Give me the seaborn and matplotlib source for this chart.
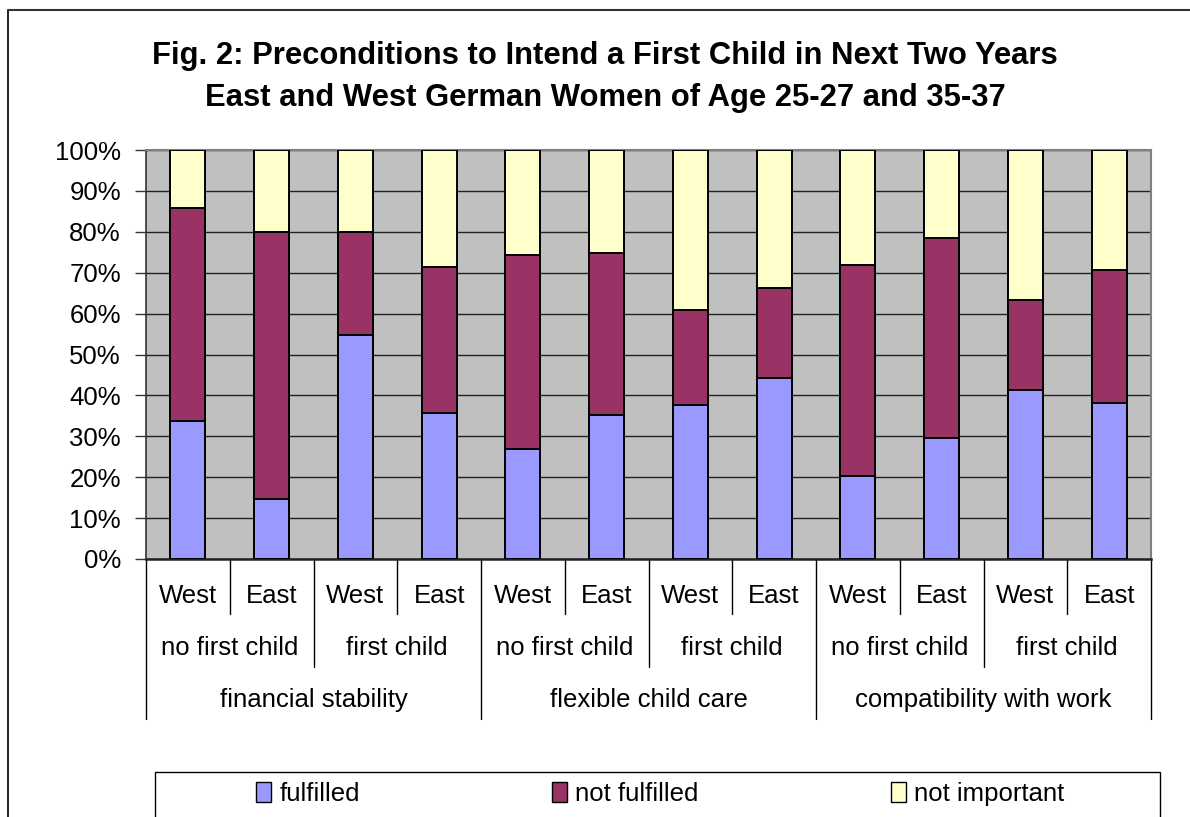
import numpy as np
import pandas as pd
import matplotlib
matplotlib.use("Agg")
import matplotlib.pyplot as plt
import matplotlib.transforms as mtransforms
from matplotlib.patches import Patch, Rectangle
import seaborn as sns

# ---- data ----
regions = ["West", "East"] * 6
child_status = ["no first child", "first child"] * 3
conditions = ["financial stability", "flexible child care", "compatibility with work"]
fulfilled = [33.7, 14.7, 54.7, 35.6, 27.0, 35.2, 37.6, 44.3, 20.4, 29.5, 41.4, 38.1]
not_fulfilled = [52.0, 65.3, 25.3, 35.9, 47.3, 39.6, 23.3, 21.9, 51.5, 49.1, 21.9, 32.5]
not_important = [14.3, 20.0, 20.0, 28.5, 25.7, 25.2, 39.1, 33.8, 28.1, 21.4, 36.7, 29.4]
series_names = ["fulfilled", "not fulfilled", "not important"]
colors = ["#9999FF", "#993366", "#FFFFCC"]
yticks = [0, 10, 20, 30, 40, 50, 60, 70, 80, 90, 100]
title_lines = ["Fig. 2: Preconditions to Intend a First Child in Next Two Years",
               "East and West German Women of Age 25-27 and 35-37"]

sns.set_style("white")
plt.rcParams["font.family"] = ["Liberation Sans", "DejaVu Sans"]
plt.rcParams["text.color"] = "black"
plt.rcParams["ytick.color"] = "black"
plt.rcParams["ytick.labelcolor"] = "black"

df = pd.DataFrame({
    "pos": list(range(12)),
    "fulfilled": fulfilled,
    "not fulfilled": not_fulfilled,
    "not important": not_important,
})
df["cum1"] = df["fulfilled"]
df["cum2"] = df["fulfilled"] + df["not fulfilled"]
df["cum3"] = df["cum2"] + df["not important"]

W, H = 1190, 817
fig = plt.figure(figsize=(W / 100, H / 100), dpi=100)
def fx(px):
    return px / W
def fy(px):
    return 1 - px / H

ax = fig.add_axes([fx(146), fy(559), (1151 - 146) / W, (559 - 150) / H])
ax.set_facecolor("#C0C0C0")

order = list(range(12))
for col, c in zip(["cum3", "cum2", "cum1"], [colors[2], colors[1], colors[0]]):
    sns.barplot(data=df, x="pos", y=col, order=order, color=c, width=0.42,
                edgecolor="black", linewidth=1.4, saturation=1, ax=ax, zorder=3)

ax.set_xlim(-0.5, 11.5)
ax.set_ylim(0, 100)
ax.set_yticks(yticks)
ax.set_yticklabels([f"{v}%" for v in yticks], fontsize=18.5, color="black")
ax.yaxis.grid(True, color="#222222", linewidth=1.0, zorder=0)
ax.set_axisbelow(True)
ax.tick_params(axis="y", direction="out", length=8, width=1, color="#333333", pad=10, left=True)
ax.set_xticks([])
ax.set_xlabel("")
ax.set_ylabel("")
for s in ["top", "right"]:
    ax.spines[s].set_color("#808080")
    ax.spines[s].set_linewidth(1.5)
ax.spines["left"].set_color("#333333")
ax.spines["bottom"].set_color("#222222")
ax.spines["left"].set_linewidth(1.2)
ax.spines["bottom"].set_linewidth(1.8)

# hierarchical category axis
trans = mtransforms.blended_transform_factory(ax.transData, fig.transFigure)
for i, r in enumerate(regions):
    ax.text(i, fy(596), r, transform=trans, ha="center", va="center", fontsize=18.5)
for i, cs in enumerate(child_status):
    ax.text(2 * i + 0.5, fy(648), cs, transform=trans, ha="center", va="center", fontsize=18.5)
for i, cond in enumerate(conditions):
    ax.text(4 * i + 1.5, fy(700), cond, transform=trans, ha="center", va="center", fontsize=18.5)

for b in np.arange(-0.5, 12, 1.0):
    k = int(b + 0.5)
    if k % 4 == 0:
        bottom = 719
    elif k % 2 == 0:
        bottom = 667
    else:
        bottom = 614
    ax.plot([b, b], [fy(559), fy(bottom)], transform=trans, color="black",
            linewidth=1.0, clip_on=False)

fig.text(fx(605), fy(56), title_lines[0], ha="center", va="center", fontsize=22.3,
         fontweight="bold")
fig.text(fx(605), fy(98), title_lines[1], ha="center", va="center", fontsize=22.3,
         fontweight="bold")

# outer chart border (left and top edges visible)
fig.add_artist(plt.Line2D([fx(8), fx(8)], [0, fy(10)], transform=fig.transFigure,
                          color="black", linewidth=1.2))
fig.add_artist(plt.Line2D([fx(8), 1], [fy(10), fy(10)], transform=fig.transFigure,
                          color="#333333", linewidth=1.5))

# legend box (extends beyond the bottom edge)
fig.add_artist(Rectangle((fx(155), fy(840)), (1160 - 155) / W, (840 - 772) / H,
                         transform=fig.transFigure, facecolor="white",
                         edgecolor="black", linewidth=1.0))
entry_x = [256, 552, 891]
for x0, c, n in zip(entry_x, colors, series_names):
    h = Patch(facecolor=c, edgecolor="black", linewidth=1.0, label=n)
    fig.legend(handles=[h], loc="center left", bbox_to_anchor=(fx(x0), fy(794)),
               frameon=False, fontsize=18.5, handlelength=0.6, handleheight=0.8,
               handletextpad=0.3, borderpad=0, borderaxespad=0)

fig.savefig("out.png", dpi=100, facecolor="white")
